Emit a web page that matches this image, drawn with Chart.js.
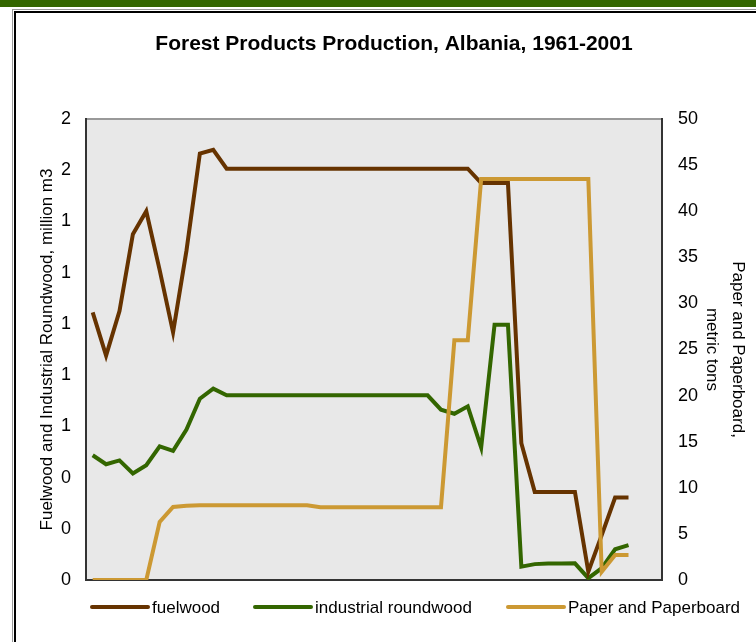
<!DOCTYPE html>
<html>
<head>
<meta charset="utf-8">
<script src="https://cdn.jsdelivr.net/npm/chart.js@4.4.1/dist/chart.umd.min.js"></script>
<style>
  html, body { margin: 0; padding: 0; background: #fff; }
  #wrap { width: 756px; height: 642px; position: relative; }
</style>
</head>
<body>
<div id="wrap"><canvas id="chart" width="756" height="642"></canvas></div>
<script>
// 43 slots on the x axis, data runs 1961-2001
const years = [];
for (let y = 1961; y <= 2003; y++) years.push(String(y));

const fuelwood = [1.045, 0.876, 1.05, 1.35, 1.44, 1.21, 0.967, 1.286, 1.665, 1.68,
  1.606, 1.606, 1.606, 1.606, 1.606, 1.606, 1.606, 1.606, 1.606, 1.606,
  1.606, 1.606, 1.606, 1.606, 1.606, 1.606, 1.606, 1.606, 1.606,
  1.55, 1.55, 1.55, 0.534, 0.344, 0.344, 0.344, 0.344, 0.032, 0.175, 0.322, 0.322];

const roundwood = [0.487, 0.452, 0.467, 0.416, 0.448, 0.522, 0.504, 0.587, 0.708, 0.747,
  0.721, 0.721, 0.721, 0.721, 0.721, 0.721, 0.721, 0.721, 0.721, 0.721,
  0.721, 0.721, 0.721, 0.721, 0.721, 0.721,
  0.665, 0.649, 0.678, 0.517, 0.997, 0.997, 0.052, 0.062, 0.064, 0.064, 0.065,
  0.007, 0.046, 0.12, 0.136];

const paper = [0, 0, 0, 0, 0, 6.3, 7.93, 8.04,
  8.1, 8.1, 8.1, 8.1, 8.1, 8.1, 8.1, 8.1, 8.1,
  7.9, 7.9, 7.9, 7.9, 7.9, 7.9, 7.9, 7.9, 7.9, 7.9,
  26.0, 26.0,
  43.5, 43.5, 43.5, 43.5, 43.5, 43.5, 43.5, 43.5, 43.5,
  0.9, 2.7, 2.7];

// left axis labels are rounded to whole numbers in the original
const leftTickLabels = ['0', '0', '0', '1', '1', '1', '1', '1', '2', '2'];

const FONT = "'Liberation Sans', Arial, sans-serif";
const legendX = [92, 255, 508];

const framePlugin = {
  id: 'frame',
  beforeDraw(chart) {
    const ctx = chart.ctx;
    const a = chart.chartArea;
    ctx.save();
    ctx.fillStyle = '#336600';
    ctx.fillRect(0, 0, 756, 7);
    ctx.strokeStyle = '#999';
    ctx.lineWidth = 1;
    ctx.strokeRect(12.5, 9.5, 800, 700);
    ctx.strokeStyle = '#000';
    ctx.lineWidth = 2;
    ctx.strokeRect(15, 12, 800, 700);
    ctx.fillStyle = '#e8e8e8';
    ctx.fillRect(a.left, a.top, a.right - a.left, a.bottom - a.top);
    ctx.strokeStyle = '#999';
    ctx.lineWidth = 2;
    ctx.beginPath();
    ctx.moveTo(a.left, a.top);
    ctx.lineTo(a.right, a.top);
    ctx.stroke();
    ctx.restore();
  },
  afterDraw(chart) {
    const ctx = chart.ctx;
    ctx.save();
    ctx.fillStyle = '#000';
    ctx.font = 'bold 21px ' + FONT;
    ctx.textAlign = 'center';
    ctx.textBaseline = 'middle';
    ctx.fillText('Forest Products Production, Albania, 1961-2001', 394, 44);
    // legend
    ctx.font = '17px ' + FONT;
    ctx.textAlign = 'left';
    chart.data.datasets.forEach((ds, i) => {
      const x = legendX[i];
      ctx.strokeStyle = ds.borderColor;
      ctx.lineWidth = 4;
      ctx.lineCap = 'round';
      ctx.beginPath();
      ctx.moveTo(x, 607);
      ctx.lineTo(x + 56, 607);
      ctx.stroke();
      ctx.fillText(ds.label, x + 60, 608);
    });
    ctx.restore();
  }
};

new Chart(document.getElementById('chart'), {
  type: 'line',
  data: {
    labels: years,
    datasets: [
      { label: 'fuelwood', data: fuelwood, yAxisID: 'y', borderColor: '#663300', order: 1 },
      { label: 'industrial roundwood', data: roundwood, yAxisID: 'y', borderColor: '#336600', order: 2 },
      { label: 'Paper and Paperboard', data: paper, yAxisID: 'y1', borderColor: '#cc9933', order: 0 }
    ]
  },
  options: {
    responsive: false,
    animation: false,
    layout: { padding: { top: 119, left: 0, right: 0, bottom: 0 } },
    elements: {
      line: { borderWidth: 4, tension: 0, fill: false },
      point: { radius: 0 }
    },
    plugins: {
      legend: { display: false },
      title: { display: false },
      tooltip: { enabled: false }
    },
    scales: {
      x: {
        offset: true,
        ticks: { display: false },
        grid: { display: false, drawTicks: false },
        border: { color: '#333', width: 2 },
        afterFit: (s) => { s.height = 62; }
      },
      y: {
        position: 'left',
        min: 0, max: 1.8,
        ticks: {
          stepSize: 0.2,
          padding: 15,
          color: '#000',
          font: { family: FONT, size: 18 },
          callback: (v, i) => leftTickLabels[i]
        },
        grid: { display: false, drawTicks: false },
        border: { color: '#333', width: 2 },
        title: {
          display: true,
          text: 'Fuelwood and Industrial Roundwood, million m3',
          color: '#000',
          font: { family: FONT, size: 17 },
          padding: { top: 37 }
        },
        afterFit: (s) => { s.width = 86; }
      },
      y1: {
        position: 'right',
        min: 0, max: 50,
        ticks: {
          stepSize: 5,
          padding: 16,
          color: '#000',
          font: { family: FONT, size: 18 }
        },
        grid: { display: false, drawTicks: false },
        border: { color: '#333', width: 2 },
        title: {
          display: true,
          text: ['Paper and Paperboard,', 'metric tons'],
          color: '#000',
          font: { family: FONT, size: 17, lineHeight: 1.53 },
          padding: { top: 5 }
        },
        afterFit: (s) => { s.width = 94; }
      }
    }
  },
  plugins: [framePlugin]
});
</script>
</body>
</html>
